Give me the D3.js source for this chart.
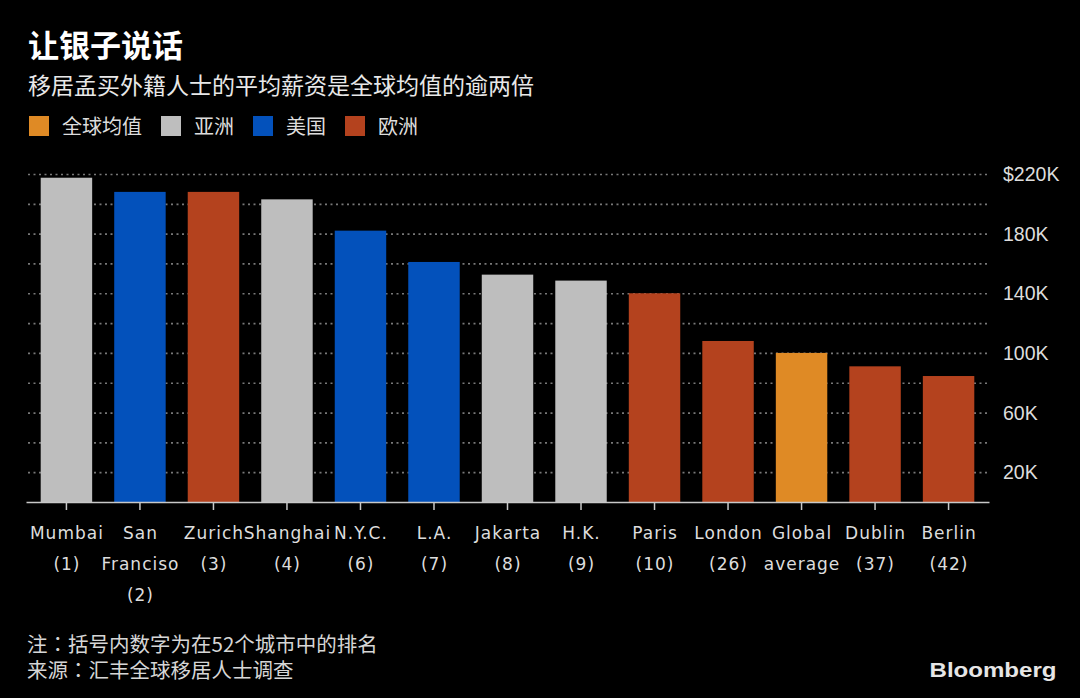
<!DOCTYPE html>
<html>
<head>
<meta charset="utf-8">
<script src="https://cdn.jsdelivr.net/npm/d3@7"></script>
<style>
  html, body { margin: 0; padding: 0; background: #000; }
  svg { display: block; }
</style>
</head>
<body>
<svg id="chart" width="1080" height="698"></svg>
<script>
// ---- data ----
const cities = ["Mumbai", "San Francisco", "Zurich", "Shanghai", "N.Y.C.", "L.A.", "Jakarta", "H.K.", "Paris", "London", "Global average", "Dublin", "Berlin"];
const cityLabelLines = [["Mumbai", "(1)"], ["San", "Franciso", "(2)"], ["Zurich", "(3)"], ["Shanghai", "(4)"], ["N.Y.C.", "(6)"], ["L.A.", "(7)"], ["Jakarta", "(8)"], ["H.K.", "(9)"], ["Paris", "(10)"], ["London", "(26)"], ["Global", "average"], ["Dublin", "(37)"], ["Berlin", "(42)"]];
const salariesK = [217.5, 208, 208, 203, 182, 161, 152.5, 148.5, 140, 108, 100, 91, 84.5];
const cityRegions = ["亚洲", "美国", "欧洲", "亚洲", "美国", "美国", "亚洲", "亚洲", "欧洲", "欧洲", "全球均值", "欧洲", "欧洲"];
const regionNames = ["全球均值", "亚洲", "美国", "欧洲"];
const regionColors = ["#DF8A25", "#BEBEBE", "#0351BB", "#B4421E"];
const gridValues = [20, 40, 60, 80, 100, 120, 140, 160, 180, 200, 220];
const yTickValues = [20, 60, 100, 140, 180, 220];
const yTickLabels = ["20K", "60K", "100K", "140K", "180K", "$220K"];
const titleText = "让银子说话";
const subtitleText = "移居孟买外籍人士的平均薪资是全球均值的逾两倍";
const noteText = ["注", "：", "括号内数字为在52个城市中的排名"];
const sourceText = ["来源", "：", "汇丰全球移居人士调查"];
const logoText = "Bloomberg";

// ---- setup ----
const svg = d3.select("#chart");
const cjk = "'Noto Sans CJK SC', 'Noto Sans', sans-serif";
const cjkJP = "'Noto Sans CJK JP', 'Noto Sans CJK SC', sans-serif";
const latin = "'DejaVu Sans', sans-serif";
const axisFont = "'Liberation Sans', Arial, sans-serif";

const x = d3.scaleBand().domain(cities).range([26, 989]).paddingInner(0.3).paddingOuter(0.2);
const y = d3.scaleLinear().domain([0, 220]).range([502, 174]);
const color = d3.scaleOrdinal().domain(regionNames).range(regionColors);

// title
svg.append("text").attr("x", 28).attr("y", 57)
  .attr("font-family", cjk).attr("font-weight", 700).attr("font-size", 31)
  .attr("fill", "#ffffff").text(titleText);
svg.append("text").attr("x", 28).attr("y", 93.5)
  .attr("font-family", cjk).attr("font-size", 23)
  .attr("fill", "#e8e8e8").text(subtitleText);

// legend
let lx = 29;
regionNames.forEach((name, i) => {
  svg.append("rect").attr("x", lx).attr("y", 116).attr("width", 20).attr("height", 20)
    .attr("fill", color(name));
  const t = svg.append("text").attr("x", lx + 33).attr("y", 133.5)
    .attr("font-family", cjk).attr("font-size", 20).attr("fill", "#dddddd").text(name);
  const w = t.node().getComputedTextLength();
  lx = lx + 33 + w + 19;
});

// gridlines
const gridAxis = d3.axisLeft(y).tickValues(gridValues).tickSize(987 - 26).tickFormat("");
const gg = svg.append("g").attr("transform", "translate(987,0)").call(gridAxis);
gg.select(".domain").remove();
gg.selectAll(".tick line").attr("stroke", "#787878").attr("stroke-width", 1.7)
  .attr("stroke-dasharray", "2,3.5");

// y labels
const yAxis = d3.axisRight(y).tickValues(yTickValues).tickSize(0)
  .tickFormat((d, i) => yTickLabels[i]);
const yg = svg.append("g").attr("transform", "translate(1003,0)").call(yAxis);
yg.select(".domain").remove();
yg.selectAll(".tick text").attr("x", 0).attr("dy", "0.34em")
  .attr("font-family", axisFont).attr("font-size", 19.5).attr("fill", "#dddddd");

// bars
svg.append("g").selectAll("rect").data(cities).join("rect")
  .attr("x", d => x(d))
  .attr("y", (d, i) => y(salariesK[i]))
  .attr("width", x.bandwidth())
  .attr("height", (d, i) => y(0) - y(salariesK[i]))
  .attr("fill", (d, i) => color(cityRegions[i]));

// x axis
const xAxis = d3.axisBottom(x).tickSize(8).tickSizeOuter(0).tickFormat("");
const xg = svg.append("g").attr("transform", "translate(0,502)").call(xAxis);
xg.select(".domain").attr("stroke", "#c8c8c8").attr("stroke-width", 1.5);
xg.selectAll(".tick line").attr("stroke", "#c8c8c8").attr("stroke-width", 1.5);

// x labels
const lg = svg.append("g");
cities.forEach((c, i) => {
  const cx = x(c) + x.bandwidth() / 2;
  cityLabelLines[i].forEach((line, j) => {
    lg.append("text").attr("x", cx + 0.5).attr("y", 538.5 + j * 31)
      .attr("text-anchor", "middle").attr("font-family", latin).attr("font-size", 17)
      .attr("letter-spacing", 1).attr("fill", "#dddddd").text(line);
  });
});

// footer
const footSize = 20.5;
function footerLine(parts, yy) {
  let fx = 27;
  const a = svg.append("text").attr("x", fx).attr("y", yy)
    .attr("font-family", cjk).attr("font-size", footSize).attr("fill", "#d6d6d6").text(parts[0]);
  fx += a.node().getComputedTextLength();
  const b = svg.append("text").attr("x", fx).attr("y", yy)
    .attr("font-family", cjkJP).attr("font-size", footSize).attr("fill", "#d6d6d6").text(parts[1]);
  fx += b.node().getComputedTextLength();
  svg.append("text").attr("x", fx).attr("y", yy)
    .attr("font-family", cjk).attr("font-size", footSize).attr("fill", "#d6d6d6").text(parts[2]);
}
footerLine(noteText, 651.5);
footerLine(sourceText, 678);

svg.append("text").attr("x", 929.5).attr("y", 676.5)
  .attr("font-family", "'Liberation Sans', Arial, sans-serif").attr("font-weight", 700)
  .attr("font-size", 19.5).attr("textLength", 127).attr("lengthAdjust", "spacingAndGlyphs")
  .attr("fill", "#e6e6e6").text(logoText);
</script>
</body>
</html>
